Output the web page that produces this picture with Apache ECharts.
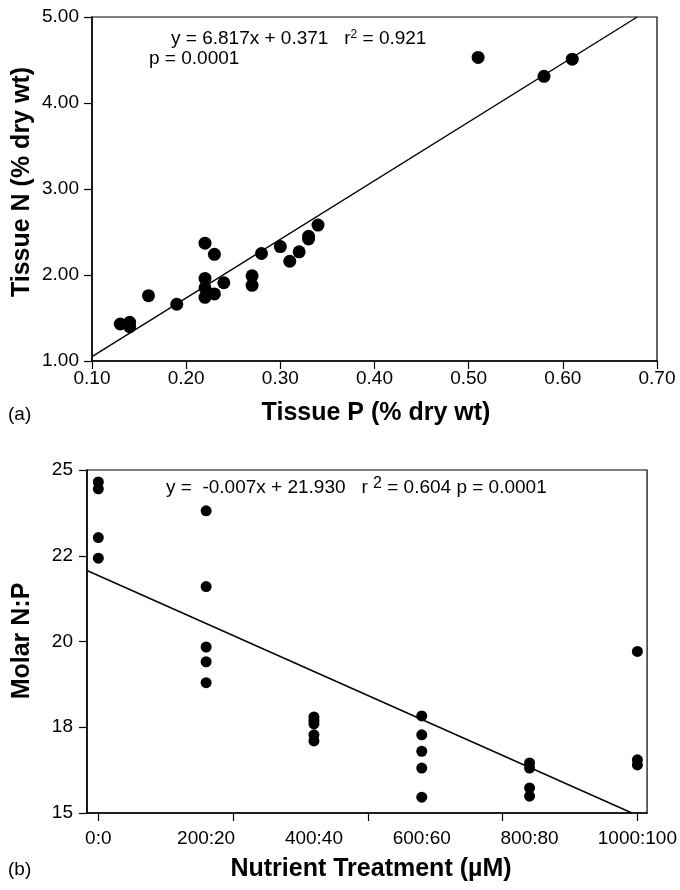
<!DOCTYPE html>
<html>
<head>
<meta charset="utf-8">
<script src="https://cdn.jsdelivr.net/npm/echarts@6/dist/echarts.min.js"></script>
<style>
  html, body { margin: 0; padding: 0; background: #fff; }
  #chart { width: 680px; height: 890px; }
</style>
</head>
<body>
<div id="chart"></div>
<script>
// (a) tissue P vs tissue N
const tissueP = [0.13, 0.14, 0.14, 0.16, 0.19, 0.22, 0.23, 0.22, 0.22, 0.22, 0.23, 0.24,
  0.27, 0.27, 0.28, 0.30, 0.31, 0.32, 0.33, 0.33, 0.34, 0.51, 0.58, 0.61]
const tissueN = [1.43, 1.45, 1.40, 1.76, 1.66, 2.37, 2.24, 1.96, 1.85, 1.74, 1.78, 1.91,
  1.99, 1.88, 2.25, 2.33, 2.16, 2.27, 2.42, 2.45, 2.58, 4.53, 4.31, 4.51]
// regression line ends
const fitA = [[0.10, 1.05], [0.679, 5.00]]

// (b) nutrient treatment (N µM) vs molar N:P
const treatment = [0, 0, 0, 0, 200, 200, 200, 200, 200, 400, 400, 400, 400, 400,
  600, 600, 600, 600, 600, 800, 800, 800, 800, 1000, 1000, 1000]
const molarNP = [24.65, 24.45, 23.03, 22.43, 23.81, 21.60, 19.84, 19.41, 18.80,
  17.80, 17.70, 17.60, 17.28, 17.10, 17.83, 17.28, 16.80, 16.31, 15.46,
  16.46, 16.31, 15.73, 15.49, 19.71, 16.55, 16.40]
const fitB = [[-21, 22.07], [990, 15.00]]

const treatmentTicks = [0, 200, 400, 600, 800, 1000]
const treatmentLabels = ['0:0', '200:20', '400:40', '600:60', '800:80', '1000:100']
const treatmentMinor = [0, 250, 500, 750, 1000]
const molarTickLabels = ['15', '18', '20', '22', '25']

const FONT = 'Liberation Sans, Arial, sans-serif'

function zip(xs, ys) {
  return xs.map((x, i) => [x, ys[i]])
}

const axisCommon = {
  axisLine: { onZero: false, lineStyle: { color: '#000', width: 1.5 } },
  axisTick: { show: true, inside: false, length: 8, lineStyle: { color: '#000', width: 1.2 } },
  splitLine: { show: false },
  axisLabel: { color: '#000', fontFamily: FONT, fontSize: 19 }
}

const chart = echarts.init(document.getElementById('chart'), null, { renderer: 'canvas' })

chart.setOption({
  animation: false,
  backgroundColor: '#fff',
  grid: [
    { left: 92, top: 17, width: 565, height: 344, show: true, borderColor: '#000', borderWidth: 1.2 },
    { left: 87, top: 470, width: 569, height: 343, show: true, borderColor: '#000', borderWidth: 1.2 }
  ],
  xAxis: [
    {
      ...axisCommon,
      gridIndex: 0,
      type: 'value',
      min: 0.1,
      max: 0.7,
      interval: 0.1,
      axisLabel: { ...axisCommon.axisLabel, margin: 8, formatter: v => v.toFixed(2) }
    },
    {
      ...axisCommon,
      gridIndex: 1,
      type: 'value',
      min: -21,
      max: 1018,
      axisTick: { ...axisCommon.axisTick, customValues: treatmentMinor },
      axisLabel: {
        ...axisCommon.axisLabel,
        margin: 16,
        customValues: treatmentTicks,
        formatter: v => treatmentLabels[treatmentTicks.indexOf(v)]
      }
    }
  ],
  yAxis: [
    {
      ...axisCommon,
      gridIndex: 0,
      type: 'value',
      min: 1,
      max: 5,
      interval: 1,
      axisLabel: { ...axisCommon.axisLabel, margin: 13, formatter: v => v.toFixed(2) }
    },
    {
      ...axisCommon,
      gridIndex: 1,
      type: 'value',
      min: 15,
      max: 25,
      interval: 2.5,
      axisLabel: { ...axisCommon.axisLabel, margin: 14, formatter: (v, i) => molarTickLabels[i] }
    }
  ],
  series: [
    {
      type: 'scatter',
      xAxisIndex: 0,
      yAxisIndex: 0,
      symbolSize: 13,
      itemStyle: { color: '#000', opacity: 1 },
      data: zip(tissueP, tissueN)
    },
    {
      type: 'line',
      xAxisIndex: 0,
      yAxisIndex: 0,
      symbol: 'none',
      lineStyle: { color: '#000', width: 1.4 },
      data: fitA
    },
    {
      type: 'scatter',
      xAxisIndex: 1,
      yAxisIndex: 1,
      symbolSize: 11,
      itemStyle: { color: '#000', opacity: 1 },
      data: zip(treatment, molarNP)
    },
    {
      type: 'line',
      xAxisIndex: 1,
      yAxisIndex: 1,
      symbol: 'none',
      lineStyle: { color: '#000', width: 1.4 },
      data: fitB
    }
  ],
  graphic: [
    {
      type: 'text', left: 171, top: 29,
      style: {
        text: '{t|y = 6.817x + 0.371   r}{s|2}{t| = 0.921}',
        rich: {
          t: { fontFamily: FONT, fontSize: 19, fill: '#000', lineHeight: 20 },
          s: { fontFamily: FONT, fontSize: 12, fill: '#000', lineHeight: 20, padding: [0, 0, 8, 0] }
        }
      }
    },
    {
      type: 'text', left: 149, top: 49,
      style: { text: 'p = 0.0001', fontFamily: FONT, fontSize: 19, fill: '#000' }
    },
    {
      type: 'text', left: 166, top: 476,
      style: {
        text: '{t|y =  -0.007x + 21.930   r }{s|2}{t| = 0.604 p = 0.0001}',
        rich: {
          t: { fontFamily: FONT, fontSize: 19, fill: '#000', lineHeight: 20 },
          s: { fontFamily: FONT, fontSize: 16, fill: '#000', lineHeight: 20, padding: [0, 0, 8, 0] }
        }
      }
    },
    {
      type: 'text', x: 22, y: 182, rotation: Math.PI / 2,
      style: {
        text: 'Tissue N (% dry wt)', fontFamily: FONT, fontSize: 25, fontWeight: 'bold',
        fill: '#000', align: 'center', verticalAlign: 'middle'
      }
    },
    {
      type: 'text', x: 376, y: 413,
      style: {
        text: 'Tissue P (% dry wt)', fontFamily: FONT, fontSize: 25, fontWeight: 'bold',
        fill: '#000', align: 'center', verticalAlign: 'middle'
      }
    },
    {
      type: 'text', x: 8, y: 415,
      style: { text: '(a)', fontFamily: FONT, fontSize: 19, fill: '#000', verticalAlign: 'middle' }
    },
    {
      type: 'text', x: 22, y: 641, rotation: Math.PI / 2,
      style: {
        text: 'Molar N:P', fontFamily: FONT, fontSize: 25, fontWeight: 'bold',
        fill: '#000', align: 'center', verticalAlign: 'middle'
      }
    },
    {
      type: 'text', x: 371, y: 869,
      style: {
        text: 'Nutrient Treatment (µM)', fontFamily: FONT, fontSize: 25, fontWeight: 'bold',
        fill: '#000', align: 'center', verticalAlign: 'middle'
      }
    },
    {
      type: 'text', x: 8, y: 870,
      style: { text: '(b)', fontFamily: FONT, fontSize: 19, fill: '#000', verticalAlign: 'middle' }
    }
  ]
})
</script>
</body>
</html>
